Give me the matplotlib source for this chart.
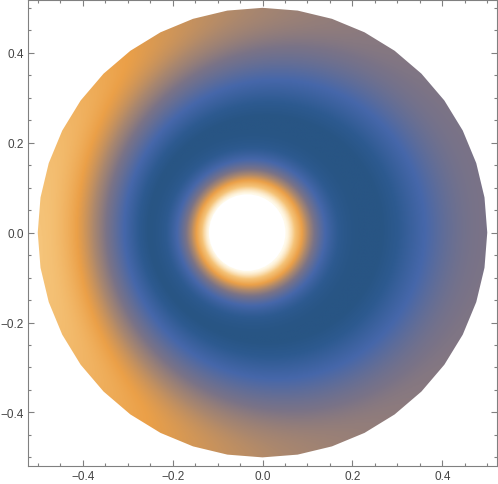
import numpy as np
import matplotlib.pyplot as plt
from matplotlib.colors import LinearSegmentedColormap
from matplotlib.patches import Polygon, Circle

# geometry
disk_radius = 0.5
disk_sides = 40
hole_center = (-0.034, 0.0)
hole_radius = 0.085

# readings along four directions from the hole centre: right, up, left, down
directions = [0, 90, 180, 270]
inner_span = [0.17, 0.15, 0.14, 0.15]         # hole edge -> start of dark blue
dark_ring_dist = [0.297, 0.255, 0.22, 0.24]   # where the darkest blue sits
edge_value = [0.50, 0.62, 0.88, 0.65]         # colour value at the rim

# colour scale (Mathematica-like density gradient)
stop_values = [0.0, 0.12, 0.3, 0.5, 0.62, 0.75, 0.88, 1.0]
stop_colors = ['#285584', '#2d5a90', '#4667aa', '#7a7387', '#aa876e', '#eba048', '#f5c378', '#fffaeb']

xticks = [-0.4, -0.2, 0.0, 0.2, 0.4]
yticks = [-0.4, -0.2, 0.0, 0.2, 0.4]
tick_labels = ['\u22120.4', '\u22120.2', '0.0', '0.2', '0.4']


def fourier4(vals, th):
    # smooth periodic curve through the four direction readings
    f0, f90, f180, f270 = vals
    a0 = (f0 + f90 + f180 + f270) / 4
    a1 = (f0 - f180) / 2
    b1 = (f90 - f270) / 2
    a2 = (f0 + f180 - f90 - f270) / 4
    return a0 + a1 * np.cos(th) + b1 * np.sin(th) + a2 * np.cos(2 * th)


n = 800
xs = np.linspace(-0.52, 0.52, n)
X, Y = np.meshgrid(xs, xs)
hx, hy = hole_center
dx, dy = X - hx, Y - hy
d = np.hypot(dx, dy)
th = np.arctan2(dy, dx)

span = fourier4(inner_span, th)
dmin = fourier4(dark_ring_dist, th)
vedge = fourier4(edge_value, th)

# distance from the hole centre to the rim along each direction
hu = hx * np.cos(th) + hy * np.sin(th)
rim = -hu + np.sqrt(hu**2 - (hx**2 + hy**2) + disk_radius**2)

s = np.clip((d - hole_radius) / span, 0, 1)
u = np.clip((d - dmin) / (rim - dmin), 0, 1)
# glow round the hole fading into the dark ring, then rising towards the rim
v_in = 0.5 * (1 + np.cos(np.pi * s**0.7))
v_out = vedge * np.sin(np.pi / 2 * u)
V = np.maximum(v_in, v_out)

cmap = LinearSegmentedColormap.from_list('dens', list(zip(stop_values, stop_colors)))

fig = plt.figure(figsize=(4.98, 4.85), dpi=100)
ax = fig.add_axes([28.3 / 498, 18.3 / 485, 468.4 / 498, 466.2 / 485])

im = ax.imshow(V, extent=(-0.52, 0.52, -0.52, 0.52), origin='lower', cmap=cmap,
               vmin=0, vmax=1, interpolation='bilinear', aspect='auto', zorder=1)
ang = np.linspace(0, 2 * np.pi, disk_sides, endpoint=False)
rim_poly = Polygon(np.c_[disk_radius * np.cos(ang), disk_radius * np.sin(ang)],
                   closed=True, fc='none', ec='none', transform=ax.transData)
ax.add_patch(rim_poly)
im.set_clip_path(rim_poly)
ax.add_patch(Circle(hole_center, hole_radius, fc='white', ec='none', zorder=2))

ax.set_xlim(-0.521, 0.521)
ax.set_ylim(-0.5185, 0.5185)

frame_col = '#808080'
for sp in ax.spines.values():
    sp.set_color(frame_col)
    sp.set_linewidth(0.8)

ax.set_xticks(xticks)
ax.set_xticklabels(tick_labels)
ax.set_yticks(yticks)
ax.set_yticklabels(tick_labels)
ax.set_xticks(np.arange(-0.5, 0.51, 0.05), minor=True)
ax.set_yticks(np.arange(-0.5, 0.51, 0.05), minor=True)
ax.tick_params(which='both', direction='in', top=True, right=True, color=frame_col, width=0.8)
ax.tick_params(which='major', length=4.3, pad=3, labelsize=8.5, labelcolor='#444444')
ax.tick_params(which='minor', length=2.2)
for lab in ax.get_xticklabels() + ax.get_yticklabels():
    lab.set_family('Liberation Sans')

fig.savefig('out.png', dpi=100)
